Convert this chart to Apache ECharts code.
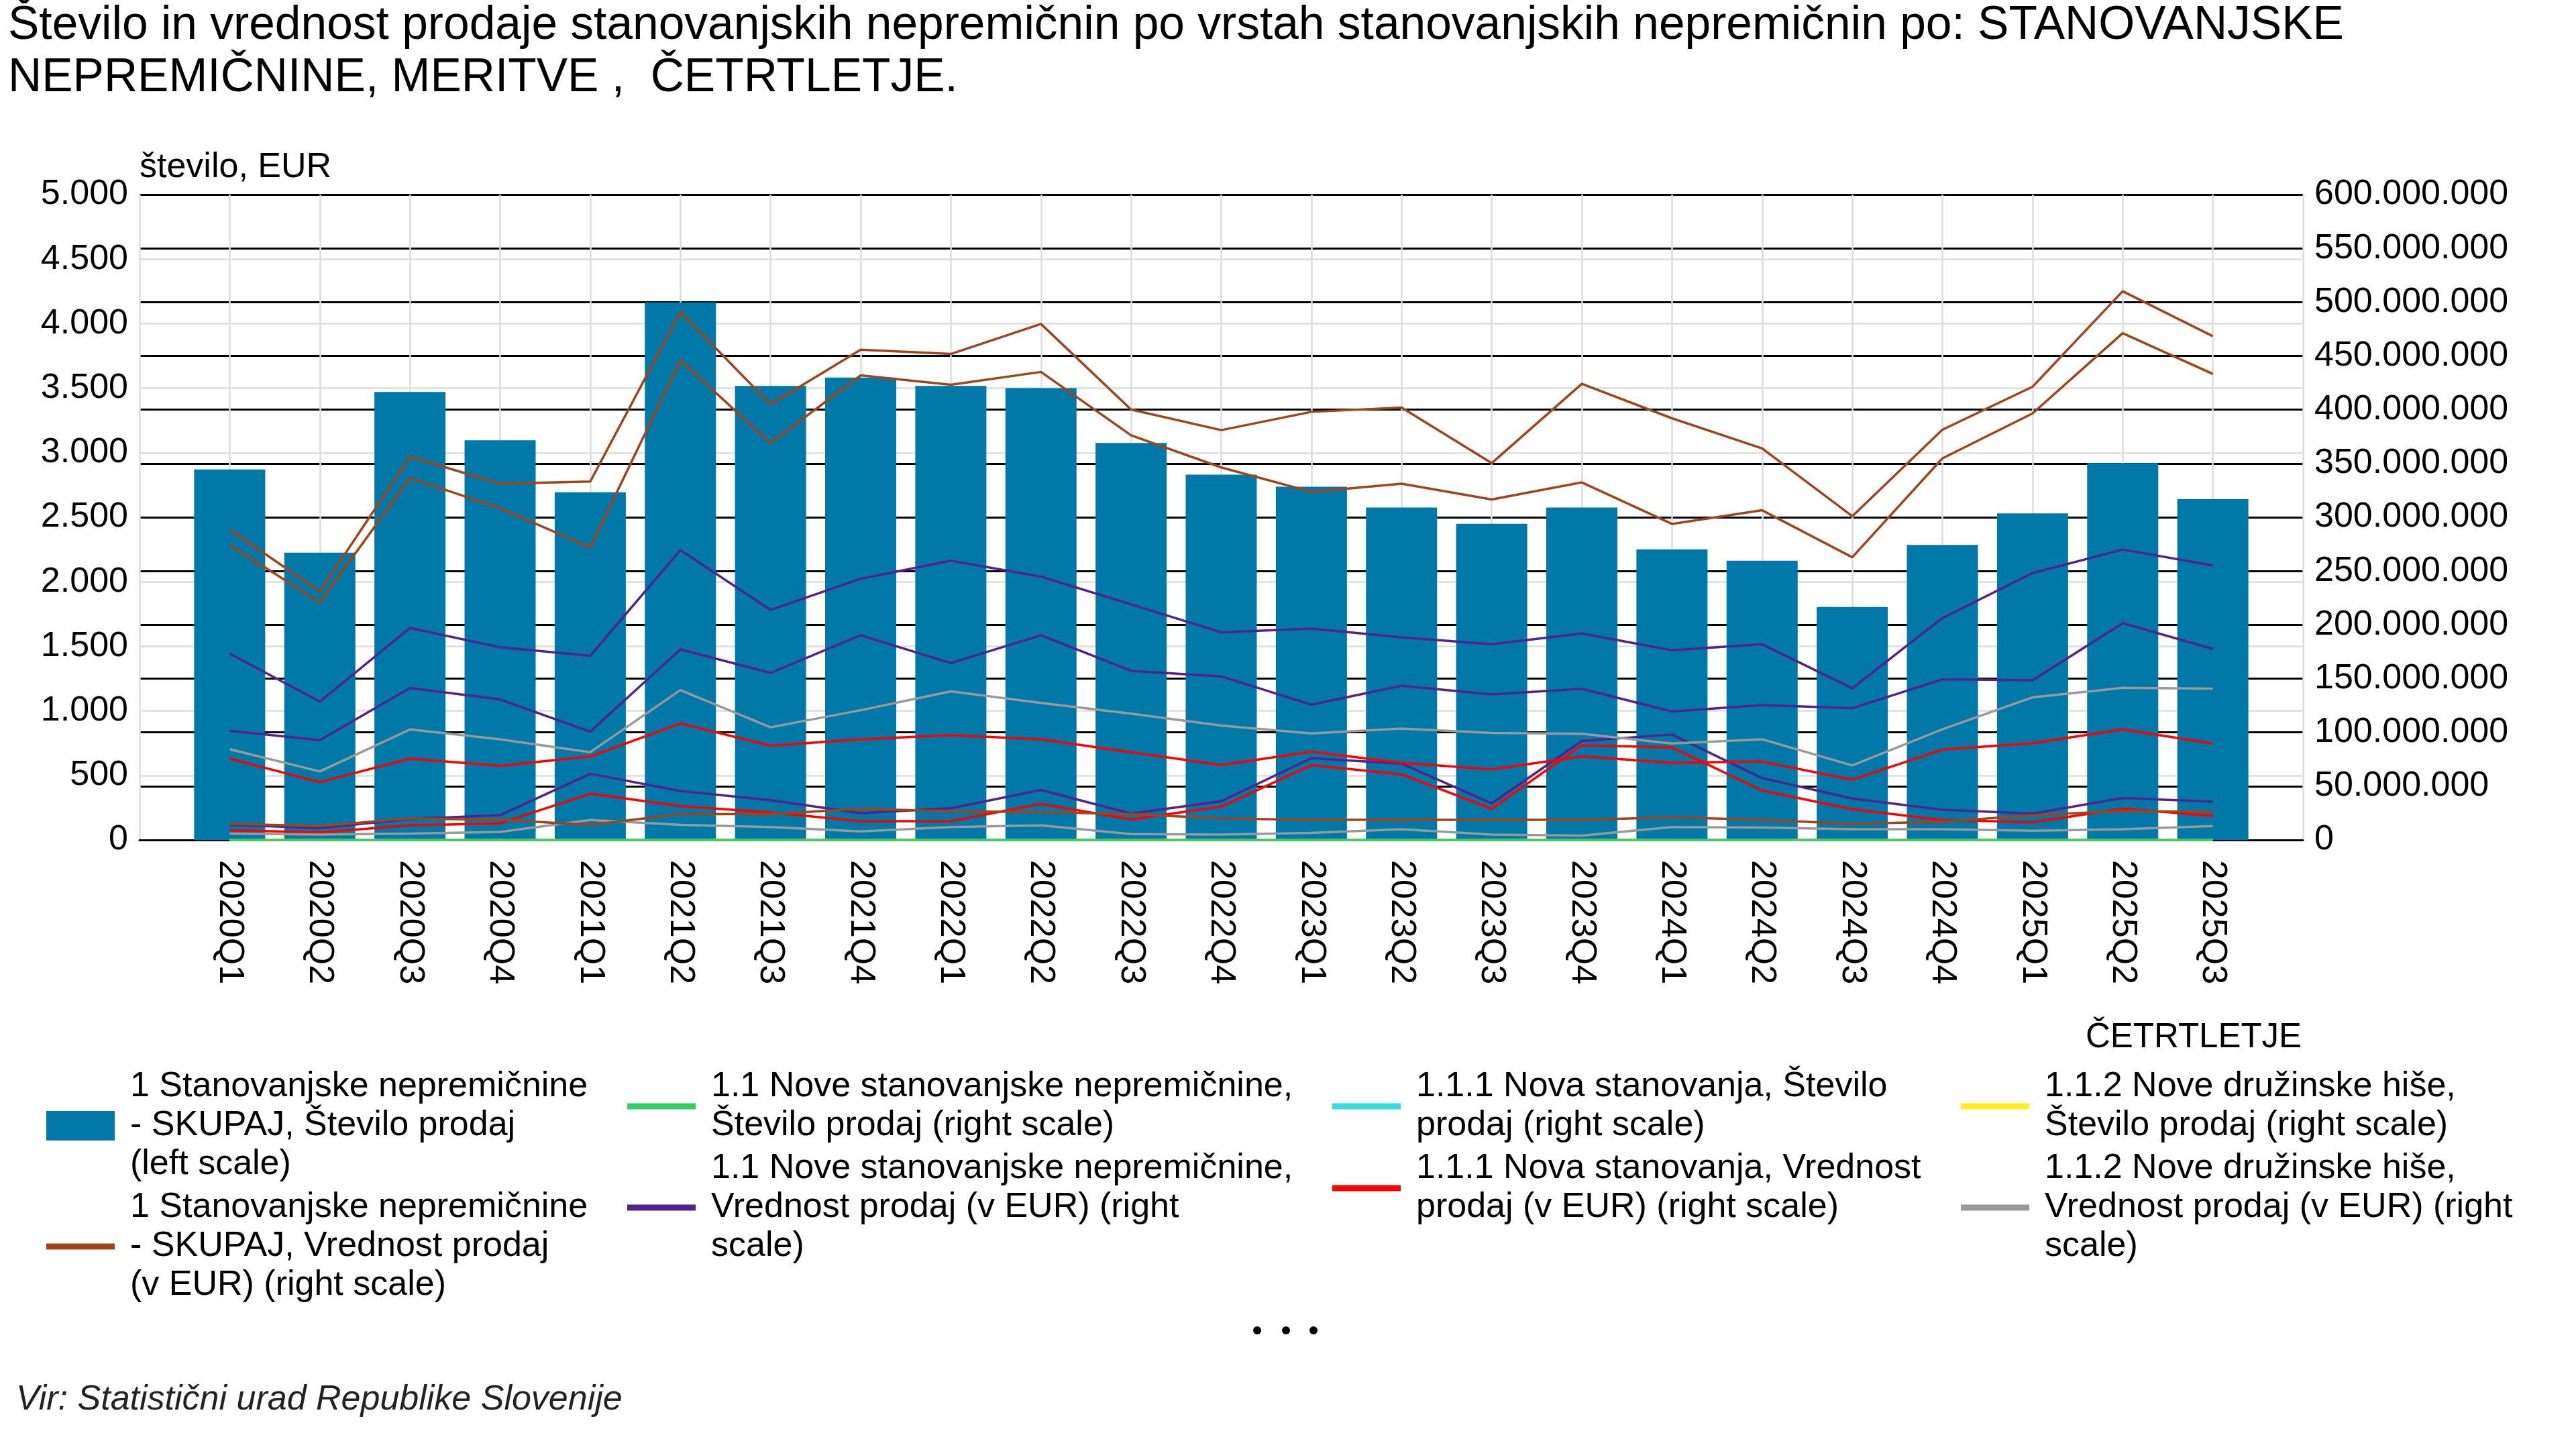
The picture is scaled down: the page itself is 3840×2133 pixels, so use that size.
<!DOCTYPE html>
<html><head><meta charset="utf-8">
<script src="https://cdn.jsdelivr.net/npm/echarts@6/dist/echarts.min.js"></script>
<style>html,body{margin:0;padding:0;background:#fff}#c{width:3840px;height:2133px}</style>
</head><body><div id="c"></div>
<script>
// ---- data ----
const categories = ['2020Q1','2020Q2','2020Q3','2020Q4','2021Q1','2021Q2','2021Q3','2021Q4','2022Q1','2022Q2','2022Q3','2022Q4','2023Q1','2023Q2','2023Q3','2023Q4','2024Q1','2024Q2','2024Q3','2024Q4','2025Q1','2025Q2','2025Q3'];
const skupajStevilo = [2870,2226,3470,3096,2694,4164,3517,3583,3517,3500,3076,2830,2737,2575,2449,2575,2250,2163,1805,2285,2530,2920,2640];
const skupajVrednost = [288.6e6,230.9e6,356.3e6,331.2e6,333.2e6,490.8e6,404.9e6,455.8e6,451.8e6,479.7e6,400.1e6,381.0e6,398.0e6,402.0e6,350.3e6,424.0e6,392.0e6,364.0e6,301.0e6,381.4e6,421.3e6,510.1e6,468.3e6];
const noveStevilo = [110,85,140,160,360,270,225,150,170,250,120,190,330,320,140,340,380,230,150,120,110,150,140];
const noveVrednost = [14.0e6,11.0e6,19.5e6,23.0e6,61.5e6,45.5e6,37.0e6,25.0e6,29.5e6,46.5e6,24.5e6,36.0e6,76.0e6,71.0e6,34.0e6,92.0e6,98.0e6,57.5e6,38.5e6,28.0e6,24.5e6,39.0e6,35.5e6];
const novaStanovanjaStevilo = [85,65,110,120,300,220,185,120,125,200,105,165,300,280,120,320,340,190,120,90,80,115,100];
const novaStanovanjaVrednost = [9.0e6,7.0e6,13.5e6,15.5e6,43.0e6,31.5e6,25.5e6,17.5e6,17.5e6,33.5e6,19.0e6,31.0e6,69.5e6,61.0e6,29.0e6,88.0e6,86.0e6,46.0e6,28.5e6,18.5e6,16.5e6,29.0e6,22.5e6];
const noveHiseStevilo = [25,20,30,40,60,50,40,30,45,50,15,25,30,40,20,20,40,40,30,30,30,35,40];
const noveHiseVrednost = [6.0e6,5.0e6,6.0e6,7.5e6,18.5e6,14.0e6,12.0e6,8.0e6,12.0e6,13.5e6,5.5e6,5.0e6,6.5e6,10.0e6,5.0e6,4.0e6,12.0e6,11.5e6,10.0e6,10.0e6,8.5e6,10.0e6,13.0e6];
// further series (not listed in the visible part of the legend)
const rabljeneVrednost = [274.3e6,220.9e6,336.4e6,308.5e6,271.9e6,445.9e6,369.0e6,431.9e6,423.2e6,435.1e6,376.2e6,346.3e6,323.6e6,331.2e6,316.5e6,332.4e6,293.8e6,306.5e6,262.8e6,354.7e6,396.5e6,471.1e6,433.2e6];
const rabljenaStanovanjaVrednost = [173.2e6,128.6e6,197.1e6,179.1e6,171.2e6,269.5e6,213.8e6,242.8e6,259.6e6,244.8e6,219.0e6,193.1e6,196.5e6,188.3e6,181.9e6,191.9e6,176.4e6,181.9e6,141.0e6,206.3e6,248.1e6,270.0e6,255.3e6];
const rabljenaStanovanjaAVrednost = [75.6e6,53.7e6,75.6e6,68.9e6,77.6e6,108.3e6,87.6e6,93.6e6,97.5e6,93.6e6,81.6e6,69.7e6,82.0e6,71.7e6,65.7e6,77.6e6,71.7e6,72.9e6,56.0e6,84.0e6,90.0e6,102.8e6,89.6e6];
const rabljenaStanovanjaBVrednost = [84.4e6,63.7e6,102.7e6,93.6e6,81.6e6,139.3e6,104.7e6,120.6e6,138.1e6,127.4e6,117.4e6,106.3e6,99.0e6,103.5e6,99.5e6,98.7e6,89.6e6,93.6e6,69.3e6,102.8e6,132.6e6,141.4e6,140.6e6];
const rabljenaStanovanjaCVrednost = [15.0e6,13.0e6,20.0e6,18.7e6,14.0e6,24.0e6,24.0e6,29.0e6,26.7e6,25.9e6,24.0e6,20.0e6,18.7e6,18.7e6,18.7e6,18.7e6,21.0e6,18.7e6,15.0e6,17.0e6,23.0e6,27.0e6,26.0e6];
const rabljeneHiseVrednost = [101.5e6,92.8e6,141.3e6,130.6e6,100.7e6,177.1e6,155.3e6,190.3e6,164.4e6,190.3e6,157.2e6,152.1e6,125.8e6,143.3e6,135.4e6,140.5e6,119.4e6,125.4e6,122.5e6,149.3e6,148.5e6,201.5e6,177.6e6];

const leftTicks = {min: 0, max: 5000, interval: 500};
const rightTicks = {min: 0, max: 600000000, interval: 50000000};

const names = [
 '1 Stanovanjske nepremičnine - SKUPAJ, Število prodaj (left scale)',
 '1 Stanovanjske nepremičnine - SKUPAJ, Vrednost prodaj (v EUR) (right scale)',
 '1.1 Nove stanovanjske nepremičnine, Število prodaj (right scale)',
 '1.1 Nove stanovanjske nepremičnine, Vrednost prodaj (v EUR) (right scale)',
 '1.1.1 Nova stanovanja, Število prodaj (right scale)',
 '1.1.1 Nova stanovanja, Vrednost prodaj (v EUR) (right scale)',
 '1.1.2 Nove družinske hiše, Število prodaj (right scale)',
 '1.1.2 Nove družinske hiše, Vrednost prodaj (v EUR) (right scale)'
];
const legendText = [
 '1 Stanovanjske nepremičnine\n- SKUPAJ, Število prodaj\n(left scale)',
 '1 Stanovanjske nepremičnine\n- SKUPAJ, Vrednost prodaj\n(v EUR) (right scale)',
 '1.1 Nove stanovanjske nepremičnine,\nŠtevilo prodaj (right scale)',
 '1.1 Nove stanovanjske nepremičnine,\nVrednost prodaj (v EUR) (right\nscale)',
 '1.1.1 Nova stanovanja, Število\nprodaj (right scale)',
 '1.1.1 Nova stanovanja, Vrednost\nprodaj (v EUR) (right scale)',
 '1.1.2 Nove družinske hiše,\nŠtevilo prodaj (right scale)',
 '1.1.2 Nove družinske hiše,\nVrednost prodaj (v EUR) (right\nscale)'
];
const hiddenNames = [
 '1.2 Rabljene stanovanjske nepremičnine, Vrednost prodaj (v EUR) (right scale)',
 '1.2.1 Rabljena stanovanja, Vrednost prodaj (v EUR) (right scale)',
 '1.2.1.1 Rabljena stanovanja, Vrednost prodaj (v EUR) (right scale)',
 '1.2.1.2 Rabljena stanovanja, Vrednost prodaj (v EUR) (right scale)',
 '1.2.1.3 Rabljena stanovanja, Vrednost prodaj (v EUR) (right scale)',
 '1.2.2 Rabljene družinske hiše, Vrednost prodaj (v EUR) (right scale)'
];

// ---- styling ----
const FONT = '"Liberation Sans", Arial, sans-serif';
const C = {blue:'#0078A8', brown:'#A0441A', green:'#33CC66', purple:'#52228F', cyan:'#33DDDD', red:'#FF0000', yellow:'#FFEE22', gray:'#999999'};
const fmt = v => String(Math.round(v)).replace(/\B(?=(\d{3})+(?!\d))/g, '.');
const pad = arr => ['-'].concat(arr, ['-']);
const xCats = [''].concat(categories, ['']);
const LINE_ICON = 'path://M0,0L102,0L102,9L0,9Z';

function line(name, data, color, extra) {
  return Object.assign({
    name, type: 'line', yAxisIndex: 1, data: pad(data), symbol: 'none',
    lineStyle: {color, width: 3.5}, itemStyle: {color}, emphasis: {disabled: true}
  }, extra || {});
}

const series = [
  {name: names[0], type: 'bar', yAxisIndex: 0, data: pad(skupajStevilo), barWidth: 106,
   itemStyle: {color: C.blue}, emphasis: {disabled: true}},
  line(names[1], skupajVrednost, C.brown),
  line(names[2], noveStevilo, C.green, {z: 4}),
  line(names[3], noveVrednost, C.purple),
  line(names[4], novaStanovanjaStevilo, C.cyan),
  line(names[5], novaStanovanjaVrednost, C.red),
  line(names[6], noveHiseStevilo, C.yellow),
  line(names[7], noveHiseVrednost, C.gray),
  line(hiddenNames[0], rabljeneVrednost, C.brown),
  line(hiddenNames[1], rabljenaStanovanjaVrednost, C.purple),
  line(hiddenNames[2], rabljenaStanovanjaAVrednost, C.red),
  line(hiddenNames[3], rabljenaStanovanjaBVrednost, C.gray),
  line(hiddenNames[4], rabljenaStanovanjaCVrednost, C.brown),
  line(hiddenNames[5], rabljeneHiseVrednost, C.purple)
];

function legendCol(left, idxA, idxB, iconA) {
  return {
    orient: 'vertical', left, top: 1591, padding: 0, itemGap: 6,
    itemWidth: 102, itemHeight: 44, symbolKeepAspect: true, selectedMode: false,
    itemStyle: {borderWidth: 0},
    data: [{name: names[idxA], icon: iconA}, {name: names[idxB], icon: LINE_ICON}],
    formatter: n => legendText[names.indexOf(n)],
    textStyle: {fontFamily: FONT, fontSize: 52, lineHeight: 58, color: '#000', padding: [0, 0, 0, 18]}
  };
}

const axisLabelStyle = {fontFamily: FONT, fontSize: 52, color: '#000'};

const option = {
  animation: false,
  backgroundColor: '#fff',
  textStyle: {fontFamily: FONT},
  title: [
    {text: 'Število in vrednost prodaje stanovanjskih nepremičnin po vrstah stanovanjskih nepremičnin po: STANOVANJSKE\nNEPREMIČNINE, MERITVE ,  ČETRTLETJE.',
     left: 12, top: 0, padding: 0,
     textStyle: {fontFamily: FONT, fontSize: 69.5, lineHeight: 78, fontWeight: 'normal', color: '#000'}},
    {text: 'ČETRTLETJE', left: 3109, top: 1518, padding: 0,
     textStyle: {fontFamily: FONT, fontSize: 51, lineHeight: 58, fontWeight: 'normal', color: '#000'}},
    {text: 'Vir: Statistični urad Republike Slovenije', left: 24, top: 2058, padding: 0,
     textStyle: {fontFamily: FONT, fontSize: 52, lineHeight: 58, fontStyle: 'italic', fontWeight: 'normal', color: '#222'}}
  ],
  graphic: [
    {type: 'circle', shape: {cx: 1874, cy: 1983, r: 6}, style: {fill: '#000'}},
    {type: 'circle', shape: {cx: 1917, cy: 1983, r: 6}, style: {fill: '#000'}},
    {type: 'circle', shape: {cx: 1958, cy: 1983, r: 6}, style: {fill: '#000'}}
  ],
  legend: [
    legendCol(69, 0, 1, 'rect'),
    legendCol(935, 2, 3, LINE_ICON),
    legendCol(1986, 4, 5, LINE_ICON),
    legendCol(2923, 6, 7, LINE_ICON)
  ],
  grid: {left: 208, right: 407, top: 290, bottom: 881, containLabel: false},
  xAxis: {
    type: 'category', data: xCats, boundaryGap: false,
    axisLine: {show: true, lineStyle: {color: '#000', width: 3}},
    axisTick: {show: false},
    axisLabel: Object.assign({rotate: -90, margin: 30, interval: 0}, axisLabelStyle),
    splitLine: {show: true, interval: 0, lineStyle: {color: '#dcdcdc', width: 2.5}}
  },
  yAxis: [
    {type: 'value', position: 'left', min: leftTicks.min, max: leftTicks.max, interval: leftTicks.interval,
     name: 'število, EUR', nameLocation: 'end', nameGap: 40,
     nameTextStyle: {fontFamily: FONT, fontSize: 52, color: '#000', align: 'left', verticalAlign: 'middle'},
     axisLine: {show: false}, axisTick: {show: false},
     axisLabel: Object.assign({margin: 17, formatter: fmt}, axisLabelStyle),
     splitLine: {show: true, lineStyle: {color: '#dcdcdc', width: 2.5}}},
    {type: 'value', position: 'right', min: rightTicks.min, max: rightTicks.max, interval: rightTicks.interval,
     axisLine: {show: false}, axisTick: {show: false},
     axisLabel: Object.assign({margin: 17, formatter: fmt}, axisLabelStyle),
     splitLine: {show: true, lineStyle: {color: '#000', width: 3}}}
  ],
  series
};

const chart = echarts.init(document.getElementById('c'), null, {renderer: 'canvas'});
chart.setOption(option);
</script>
</body></html>
